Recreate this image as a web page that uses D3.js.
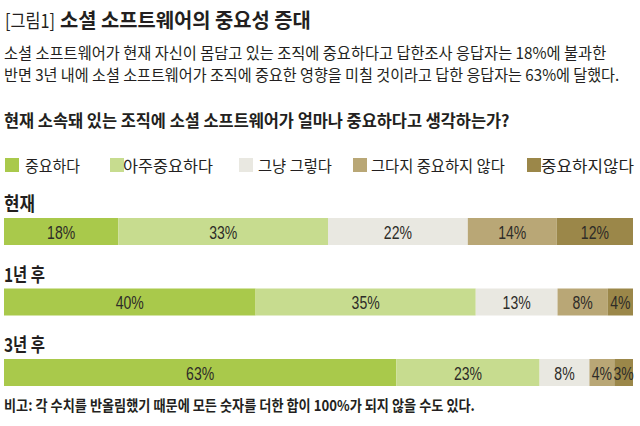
<!DOCTYPE html>
<html>
<head>
<meta charset="utf-8">
<script src="https://cdn.jsdelivr.net/npm/d3@7"></script>
<style>
  html, body { margin: 0; padding: 0; background: #fff; }
  svg { display: block; }
  .kr { font-family: "Noto Sans CJK KR", "Noto Sans", sans-serif; fill: #231f20; }
  .num { font-family: "Liberation Sans Narrow", "Liberation Sans", Arial, sans-serif; fill: #2e2c28; }
</style>
</head>
<body>
<svg id="chart" width="640" height="426"></svg>
<script>
// ---- data ----
const categories = ["현재", "1년 후", "3년 후"];
const seriesNames = ["중요하다", "아주중요하다", "그냥 그렇다", "그다지 중요하지 않다", "중요하지않다"];
const importantVals    = [18, 40, 63];
const veryImportantVals = [33, 35, 23];
const neutralVals      = [22, 13, 8];
const notVeryVals      = [14, 8, 4];
const notImportantVals = [12, 4, 3];
const seriesColors = ["#a9c94b", "#c7dc8f", "#e9e8e1", "#b9a776", "#9b8749"];

const titlePrefix = "[그림1]";
const titleMain = "소셜 소프트웨어의 중요성 증대";
const subtitleLines = [
  "소셜 소프트웨어가 현재 자신이 몸담고 있는 조직에 중요하다고 답한조사 응답자는 18%에 불과한",
  "반면 3년 내에 소셜 소프트웨어가 조직에 중요한 영향을 미칠 것이라고 답한 응답자는 63%에 달했다."
];
const question = "현재 소속돼 있는 조직에 소셜 소프트웨어가 얼마나 중요하다고 생각하는가?";
const footnote = "비고: 각 수치를 반올림했기 때문에 모든 숫자를 더한 합이 100%가 되지 않을 수도 있다.";

// ---- build table ----
const seriesArrays = [importantVals, veryImportantVals, neutralVals, notVeryVals, notImportantVals];
const table = categories.map((c, i) => {
  const row = { cat: c };
  seriesNames.forEach((s, j) => row[s] = seriesArrays[j][i]);
  return row;
});

const svg = d3.select("#chart");

// draws a text and horizontally scales it to a target width
function fitText(parent, str, x, y, size, weight, width) {
  const t = parent.append("text").attr("class", "kr")
    .attr("dominant-baseline", "central")
    .attr("font-size", size).attr("font-weight", weight)
    .text(str);
  const natural = t.node().getComputedTextLength();
  const s = natural > 0 ? width / natural : 1;
  t.attr("transform", `translate(${x},${y}) scale(${s},1)`);
  return t;
}

// ---- header texts ----
fitText(svg, titlePrefix, 5, 19, 19, "normal", 50);
fitText(svg, titleMain, 60, 19, 20, "bold", 251);

const subWidths = [603, 616];
const subY = [52, 74];
subtitleLines.forEach((t, i) => fitText(svg, t, 4, subY[i], 16, "normal", subWidths[i]));

fitText(svg, question, 4, 120, 17, "bold", 506);

// ---- legend ----
const legendSquareX = [5, 110, 239, 353, 527];
const legendTextX = [25, 123, 258, 371, 541];
const legendTextW = [55, 90, 74, 134, 93];
const legend = svg.append("g");
seriesNames.forEach((s, j) => {
  legend.append("rect")
    .attr("x", legendSquareX[j]).attr("y", 158)
    .attr("width", 14).attr("height", 14)
    .attr("fill", seriesColors[j]);
  fitText(legend, s, legendTextX[j], 165, 16, "normal", legendTextW[j]);
});

// ---- bars ----
const stack = d3.stack().keys(seriesNames).offset(d3.stackOffsetExpand);
const stacked = stack(table);

const x = d3.scaleLinear().domain([0, 1]).range([4, 633]);
const y = d3.scaleBand().domain(categories).range([218, 386]).paddingInner(0.617).paddingOuter(0);
const color = d3.scaleOrdinal().domain(seriesNames).range(seriesColors);

const layers = svg.append("g").selectAll("g").data(stacked).join("g")
  .attr("fill", d => color(d.key));

layers.selectAll("rect").data(d => d.map(v => ({ v, key: d.key }))).join("rect")
  .attr("x", d => x(d.v[0]))
  .attr("y", d => y(d.v.data.cat))
  .attr("width", d => x(d.v[1]) - x(d.v[0]))
  .attr("height", y.bandwidth());

const labels = svg.append("g");
stacked.forEach(layer => {
  layer.forEach(v => {
    const cx = (x(v[0]) + x(v[1])) / 2;
    const cy = y(v.data.cat) + y.bandwidth() / 2 + 1;
    labels.append("text").attr("class", "num")
      .attr("transform", `translate(${cx},${cy}) scale(0.74,1)`)
      .attr("text-anchor", "middle")
      .attr("dominant-baseline", "central")
      .attr("font-size", 19)
      .text(v.data[layer.key] + "%");
  });
});

// ---- row labels ----
const rowLabelW = { "현재": 31, "1년 후": 41, "3년 후": 41 };
const rowG = svg.append("g");
categories.forEach(c => fitText(rowG, c, 4, y(c) - 15, 19, "bold", rowLabelW[c]));

// ---- footnote ----
fitText(svg, footnote, 4, 405, 15, "bold", 471);
</script>
</body>
</html>
